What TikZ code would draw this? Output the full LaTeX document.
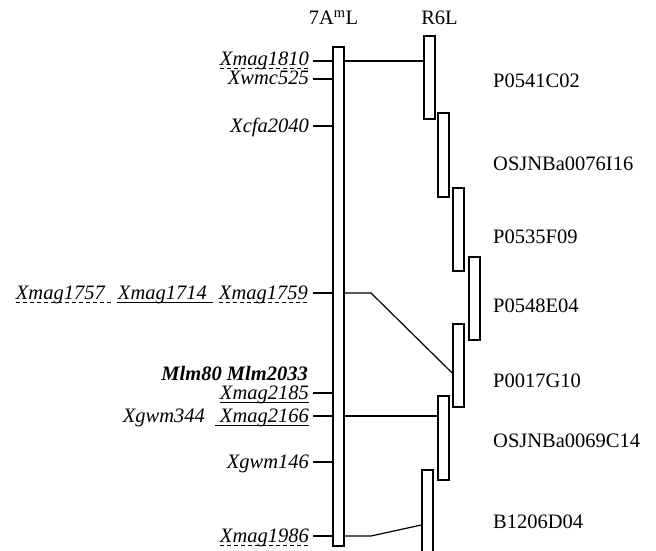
\documentclass[tikz,border=0pt]{standalone}
\usepackage{fontspec}
\setmainfont{Liberation Serif}
\usetikzlibrary{positioning}
\newcommand{\figfont}{\fontsize{20.5pt}{24pt}\selectfont}
\newcommand{\ulmark}[2]{\draw[#1] ([yshift=-3pt]#2.base west)--([yshift=-3pt]#2.base east);}
\tikzset{chrom/.style={draw,line width=1.6pt,fill=white,minimum width=11pt,inner sep=0pt},
         bac/.style={draw,line width=1.6pt,fill=white,minimum width=11pt,inner sep=0pt},
         head/.style={font=\figfont,inner sep=0pt,anchor=base},
         bacname/.style={font=\figfont,inner sep=0pt,anchor=base west},
         mk/.style={font=\figfont\itshape,inner sep=0pt,anchor=base east},
         tick/.style={line width=1.4pt},
         link/.style={line width=1.2pt},
         ulsolid/.style={line width=.9pt},
         uldash/.style={line width=.9pt,dash pattern=on 4pt off 3pt}}
\begin{document}
\begin{tikzpicture}[x=1pt,y=-1pt]
  \useasboundingbox (0,0) rectangle (656,551);
  \clip (0,0) rectangle (656,551);
  % chromosome 7A^mL
  \node[chrom,minimum height=499pt] (chr) at (338.5,296.5) {};
  \node[head] (t7a) at (333.5,25) {7A\textsuperscript{m}L};
  \node[head] (tr6) at (439.5,25) {R6L};
  % marker ticks
  \foreach \k/\y in {1810/61,525/79,2040/126,1759/293,2185/393,2166/416,146/462,1986/536}
    \coordinate (k\k) at (313,\y);
  \foreach \k in {1810,525,2040,1759,2185,2166,146,1986}
    \draw[tick] (k\k) -- (k\k -| chr.west);
  % marker labels
  \node[mk] (m1810) at (309,65.5) {Xmag1810};
  \node[mk] (m525) at (309,84.5) {Xwmc525};
  \node[mk] (m2040) at (309,132) {Xcfa2040};
  \node[mk] (m1759) at (308,299) {Xmag1759};
  \node[mk] (m1714) at (207,299) {Xmag1714};
  \node[mk] (m1757) at (105,299) {Xmag1757};
  \node[mk,font=\figfont\bfseries\itshape] (mlm) at (308,380) {Mlm80 Mlm2033};
  \node[mk] (m2185) at (309,399) {Xmag2185};
  \node[mk] (m2166) at (309,422) {Xmag2166};
  \node[mk] (m344) at (205,422) {Xgwm344};
  \node[mk] (m146) at (309,468) {Xgwm146};
  \node[mk] (m1986) at (309,542) {Xmag1986};
  \ulmark{uldash}{m1810}
  \draw[uldash] ([yshift=-3pt]m1757.base west) -- ([xshift=7pt,yshift=-3pt]m1757.base east);
  \draw[ulsolid] ([xshift=-1pt,yshift=-3pt]m1714.base west) -- ([xshift=6pt,yshift=-3pt]m1714.base east);
  \ulmark{uldash}{m1759}
  \ulmark{ulsolid}{m2185}
  \draw[ulsolid] ([xshift=-5pt,yshift=-3pt]m2166.base west) -- ([yshift=-3pt]m2166.base east);
  \ulmark{uldash}{m1986}
  % BAC contig on R6L
  \node[bac,minimum height=83pt] (bac1) at (429.5,77.5) {};
  \node[bac,minimum height=84pt] (bac2) at (443.5,155) {};
  \node[bac,minimum height=83pt] (bac3) at (458.5,229.5) {};
  \node[bac,minimum height=83pt] (bac4) at (474.5,298.5) {};
  \node[bac,minimum height=83pt] (bac5) at (458.5,365.5) {};
  \node[bac,minimum height=84pt] (bac6) at (443.5,438) {};
  \node[bac,minimum height=90pt] (bac7) at (427.5,515) {};
  \node[bacname] (n1) at (493,88) {P0541C02};
  \node[bacname] (n2) at (493,170) {OSJNBa0076I16};
  \node[bacname] (n3) at (493,243) {P0535F09};
  \node[bacname] (n4) at (493,312) {P0548E04};
  \node[bacname] (n5) at (493,387) {P0017G10};
  \node[bacname] (n6) at (493,447) {OSJNBa0069C14};
  \node[bacname] (n7) at (493,528) {B1206D04};
  % links between map and contig
  \coordinate (b1759) at (371,293);
  \coordinate (b1986) at (371,536);
  \draw[link] (k1810 -| chr.east) -- (k1810 -| bac1.west);
  \draw[link] (k1759 -| chr.east) -- (b1759) -- (bac5.west |- 0,373);
  \draw[link] (k2166 -| chr.east) -- (k2166 -| bac6.west);
  \draw[link] (k1986 -| chr.east) -- (b1986) -- (bac7.west |- 0,525);
\end{tikzpicture}
\end{document}
